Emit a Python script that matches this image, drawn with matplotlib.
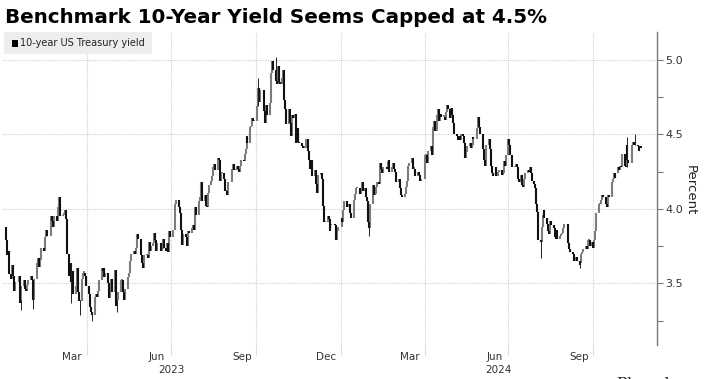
import numpy as np
import pandas as pd
import matplotlib
matplotlib.use("Agg")
import matplotlib.pyplot as plt
import matplotlib.dates as mdates
from matplotlib.patches import Rectangle

# daily closes of the 10-year US Treasury yield (percent)
close_2023 = [
    3.79, 3.69, 3.72, 3.56, 3.53, 3.62, 3.55, 3.45, 3.51, 3.55, 3.37, 3.39, 3.48, 3.52, 3.46, 3.45, 3.49, 3.52, 3.55, 3.52,
    3.42, 3.39, 3.53, 3.64, 3.67, 3.61, 3.66, 3.74, 3.72, 3.77, 3.81, 3.86, 3.82, 3.95, 3.92, 3.88, 3.95, 3.92, 3.92,
    4.01, 4.08, 3.95, 3.96, 3.97, 3.99, 3.93, 3.70, 3.55, 3.64, 3.51, 3.58, 3.43, 3.48, 3.60, 3.44, 3.38, 3.38, 3.53, 3.57, 3.57, 3.55, 3.48,
    3.43, 3.34, 3.31, 3.29, 3.41, 3.43, 3.41, 3.45, 3.52, 3.60, 3.58, 3.60, 3.54, 3.57, 3.50, 3.40, 3.45, 3.53, 3.44,
    3.59, 3.44, 3.35, 3.39, 3.44, 3.52, 3.52, 3.44, 3.39, 3.46, 3.51, 3.54, 3.57, 3.65, 3.70, 3.72, 3.70, 3.74, 3.83, 3.80, 3.69, 3.64,
    3.60, 3.69, 3.69, 3.67, 3.78, 3.72, 3.75, 3.77, 3.84, 3.79, 3.72, 3.77, 3.72, 3.73, 3.80, 3.74, 3.72, 3.77, 3.71, 3.85, 3.81,
    3.86, 3.94, 4.03, 4.06, 4.01, 3.97, 3.86, 3.76, 3.83, 3.81, 3.80, 3.75, 3.85, 3.84, 3.87, 3.89, 3.86, 4.01, 3.96, 3.97,
    4.05, 4.08, 4.18, 4.05, 4.09, 4.02, 4.01, 4.11, 4.16, 4.19, 4.22, 4.28, 4.30, 4.26, 4.34, 4.33, 4.19, 4.24, 4.24, 4.20, 4.12, 4.12, 4.09,
    4.18, 4.27, 4.30, 4.26, 4.26, 4.29, 4.27, 4.25, 4.29, 4.33, 4.32, 4.37, 4.40, 4.49, 4.44, 4.55, 4.56, 4.61, 4.59, 4.59,
    4.69, 4.81, 4.73, 4.72, 4.80, 4.66, 4.58, 4.70, 4.63, 4.71, 4.83, 4.91, 4.99, 4.93, 4.86, 4.84, 4.96, 4.85, 4.84, 4.88, 4.93,
    4.73, 4.67, 4.57, 4.67, 4.58, 4.49, 4.63, 4.61, 4.64, 4.44, 4.54, 4.45, 4.44, 4.42, 4.41, 4.41, 4.47, 4.39, 4.33, 4.27, 4.33,
    4.22, 4.26, 4.17, 4.11, 4.13, 4.23, 4.24, 4.20, 4.02, 3.91, 3.91, 3.95, 3.93, 3.85, 3.89, 3.90, 3.89, 3.79, 3.85, 3.88,
]
close_2024 = [
    3.94, 3.91, 3.99, 4.05, 4.01, 4.02, 4.03, 3.97, 3.94, 4.06, 4.10, 4.14, 4.14, 4.10, 4.14, 4.18, 4.12, 4.14, 4.08, 4.05, 3.91,
    3.87, 4.03, 4.16, 4.09, 4.10, 4.15, 4.18, 4.17, 4.31, 4.27, 4.24, 4.28, 4.27, 4.32, 4.33, 4.25, 4.28, 4.31, 4.27, 4.25,
    4.18, 4.20, 4.14, 4.10, 4.09, 4.08, 4.10, 4.15, 4.19, 4.29, 4.31, 4.34, 4.30, 4.27, 4.27, 4.22, 4.25, 4.23, 4.19, 4.20,
    4.33, 4.36, 4.36, 4.31, 4.39, 4.42, 4.36, 4.55, 4.59, 4.52, 4.63, 4.67, 4.59, 4.64, 4.62, 4.62, 4.60, 4.65, 4.70, 4.67, 4.61, 4.68,
    4.63, 4.58, 4.50, 4.49, 4.46, 4.49, 4.46, 4.50, 4.49, 4.44, 4.34, 4.38, 4.42, 4.44, 4.41, 4.43, 4.48, 4.47, 4.54, 4.62, 4.55, 4.50,
    4.40, 4.33, 4.29, 4.29, 4.43, 4.47, 4.40, 4.29, 4.24, 4.22, 4.28, 4.22, 4.25, 4.26, 4.23, 4.24, 4.32, 4.29, 4.36,
    4.47, 4.43, 4.36, 4.28, 4.28, 4.30, 4.28, 4.20, 4.18, 4.23, 4.16, 4.15, 4.20, 4.24, 4.26, 4.25, 4.28, 4.24, 4.19, 4.17, 4.14, 4.03,
    3.98, 3.79, 3.78, 3.88, 3.96, 3.99, 3.94, 3.90, 3.85, 3.83, 3.92, 3.89, 3.87, 3.81, 3.80, 3.86, 3.80, 3.82, 3.83, 3.84, 3.87, 3.90,
    3.84, 3.77, 3.73, 3.71, 3.70, 3.65, 3.65, 3.68, 3.65, 3.62, 3.64, 3.70, 3.71, 3.73, 3.75, 3.73, 3.79, 3.79, 3.75, 3.78,
    3.74, 3.79, 3.85, 3.97, 4.03, 4.03, 4.06, 4.09, 4.08, 4.03, 4.01, 4.09, 4.08, 4.18, 4.20, 4.24, 4.21, 4.24, 4.28, 4.26, 4.29, 4.28,
    4.37, 4.29, 4.28, 4.43, 4.33, 4.31, 4.43, 4.45, 4.43, 4.43, 4.42, 4.39, 4.41, 4.42, 4.41,
]
first_open = 3.88
last_day = "2024-11-22"

# bond market holidays inside the range
holidays = [
    "2023-01-02", "2023-01-16", "2023-02-20", "2023-04-07", "2023-05-29", "2023-06-19",
    "2023-07-04", "2023-09-04", "2023-10-09", "2023-11-23", "2023-12-25",
    "2024-01-01", "2024-01-15", "2024-02-19", "2024-03-29", "2024-05-27", "2024-06-19",
    "2024-07-04", "2024-09-02", "2024-10-14", "2024-11-11",
]

# intraday extremes that stick out of the bars
wick_dates = ["2023-01-19", "2023-02-02", "2023-03-15", "2023-03-24", "2023-04-06", "2023-05-04",
              "2023-10-03", "2023-10-23", "2024-02-01", "2024-08-05", "2024-09-16",
              "2024-11-06", "2024-11-15"]
wick_ends = [3.32, 3.33, 3.37, 3.29, 3.25, 3.31,
             4.88, 5.02, 3.82, 3.67, 3.60,
             4.48, 4.50]

month_labels = ["Mar", "Jun", "Sep", "Dec", "Mar", "Jun", "Sep"]
label_dates = ["2023-03-16", "2023-06-16", "2023-09-16", "2023-12-16",
               "2024-03-16", "2024-06-16", "2024-09-16"]
grid_dates = ["2023-04-01", "2023-07-01", "2023-10-01", "2024-01-01",
              "2024-04-01", "2024-07-01", "2024-10-01"]
years = ["2023", "2024"]

days = pd.bdate_range("2023-01-01", last_day)
days = days[~days.isin(pd.to_datetime(holidays))]
closes = np.array(close_2023 + close_2024)
assert len(days) == len(closes), (len(days), len(closes))
opens = np.concatenate([[first_open], closes[:-1]])

W, H = 711, 379
fig = plt.figure(figsize=(W / 100, H / 100), dpi=100)
fig.patch.set_facecolor("white")

ax = fig.add_axes([3 / W, (H - 345) / H, 654 / W, 313 / H])
x = mdates.date2num(days)

lo = np.minimum(opens, closes)
hi = np.maximum(opens, closes)
hi = np.maximum(hi, lo + 0.01)
up = closes >= opens
ax.vlines(x[up], lo[up], hi[up], color="#7c7c7c", lw=1.5, zorder=3)
ax.vlines(x[~up], lo[~up], hi[~up], color="#111111", lw=1.5, zorder=4)

wx = mdates.date2num(pd.to_datetime(wick_dates))
widx = np.searchsorted(x, wx)
for i, end in zip(widx, wick_ends):
    ax.vlines(x[i], min(end, lo[i]), max(end, hi[i]), color="#222222", lw=0.7, zorder=4)

ax.set_xlim(mdates.date2num(pd.Timestamp("2022-12-31")), mdates.date2num(pd.Timestamp("2024-12-09")))
ax.set_ylim(3.086, 5.188)

# y axis on the right
ax.yaxis.tick_right()
ax.set_yticks([3.5, 4.0, 4.5, 5.0])
ax.set_yticks([3.25, 3.75, 4.25, 4.75], minor=True)
ax.set_yticklabels(["3.5", "4.0", "4.5", "5.0"])
ax.tick_params(axis="y", which="both", length=4, width=0.8, color="#7a7a7a",
               labelsize=8, labelcolor="#333333", pad=2)

# x axis: gridlines at quarter starts, labels mid-month
ax.set_xticks(mdates.date2num(pd.to_datetime(grid_dates)))
ax.set_xticklabels([""] * len(grid_dates))
ax.set_xticks(mdates.date2num(pd.to_datetime(label_dates)), minor=True)
ax.set_xticklabels(month_labels, minor=True)
ax.tick_params(axis="x", which="major", length=7, width=0.8, color="#dddddd", direction="out")
ax.tick_params(axis="x", which="minor", length=0, labelsize=7.5, labelcolor="#333333", pad=5)

ax.grid(True, which="major", axis="both", color="#cfcfcf", lw=0.8, ls=(0, (1, 1)))
ax.set_axisbelow(True)

for s in ["top", "left", "bottom"]:
    ax.spines[s].set_visible(False)
ax.spines["right"].set_color("#7a7a7a")
ax.spines["right"].set_linewidth(1.0)

# year labels centred on their visible span
xl = ax.get_xlim()
y23 = (xl[0] + mdates.date2num(pd.Timestamp("2024-01-01"))) / 2
y24 = (mdates.date2num(pd.Timestamp("2024-01-01")) + xl[1]) / 2
for yr, xc in zip(years, [y23, y24]):
    ax.text(xc, -0.08, yr, transform=ax.get_xaxis_transform(), ha="center", va="center",
            fontsize=7.5, color="#333333")

fig.text(690 / W, 1 - 190 / H, "Percent", rotation=270, ha="center", va="center",
         fontsize=9.5, color="#222222")

# title
fig.text(5 / W, 1 - 23 / H, "Benchmark 10-Year Yield Seems Capped at 4.5%",
         fontsize=14.3, fontweight="bold", color="black", ha="left", va="baseline")

# legend box
fig.patches.append(Rectangle((4 / W, 1 - 54 / H), 148 / W, 22 / H, transform=fig.transFigure,
                             facecolor="#ededed", edgecolor="none", zorder=5))
fig.patches.append(Rectangle((12 / W, 1 - 47 / H), 6 / W, 7 / H, transform=fig.transFigure,
                             facecolor="black", edgecolor="none", zorder=6))
fig.text(19.5 / W, 1 - 43 / H, "10-year US Treasury yield", fontsize=7, color="#222222",
         ha="left", va="center", zorder=7)

# source line, mostly below the bottom edge as in the reference
fig.text(616 / W, 1 - 377 / H, "Bloomberg", fontsize=11, color="#222222", ha="left", va="top",
         family="DejaVu Serif")

fig.savefig("out.png", dpi=100)
